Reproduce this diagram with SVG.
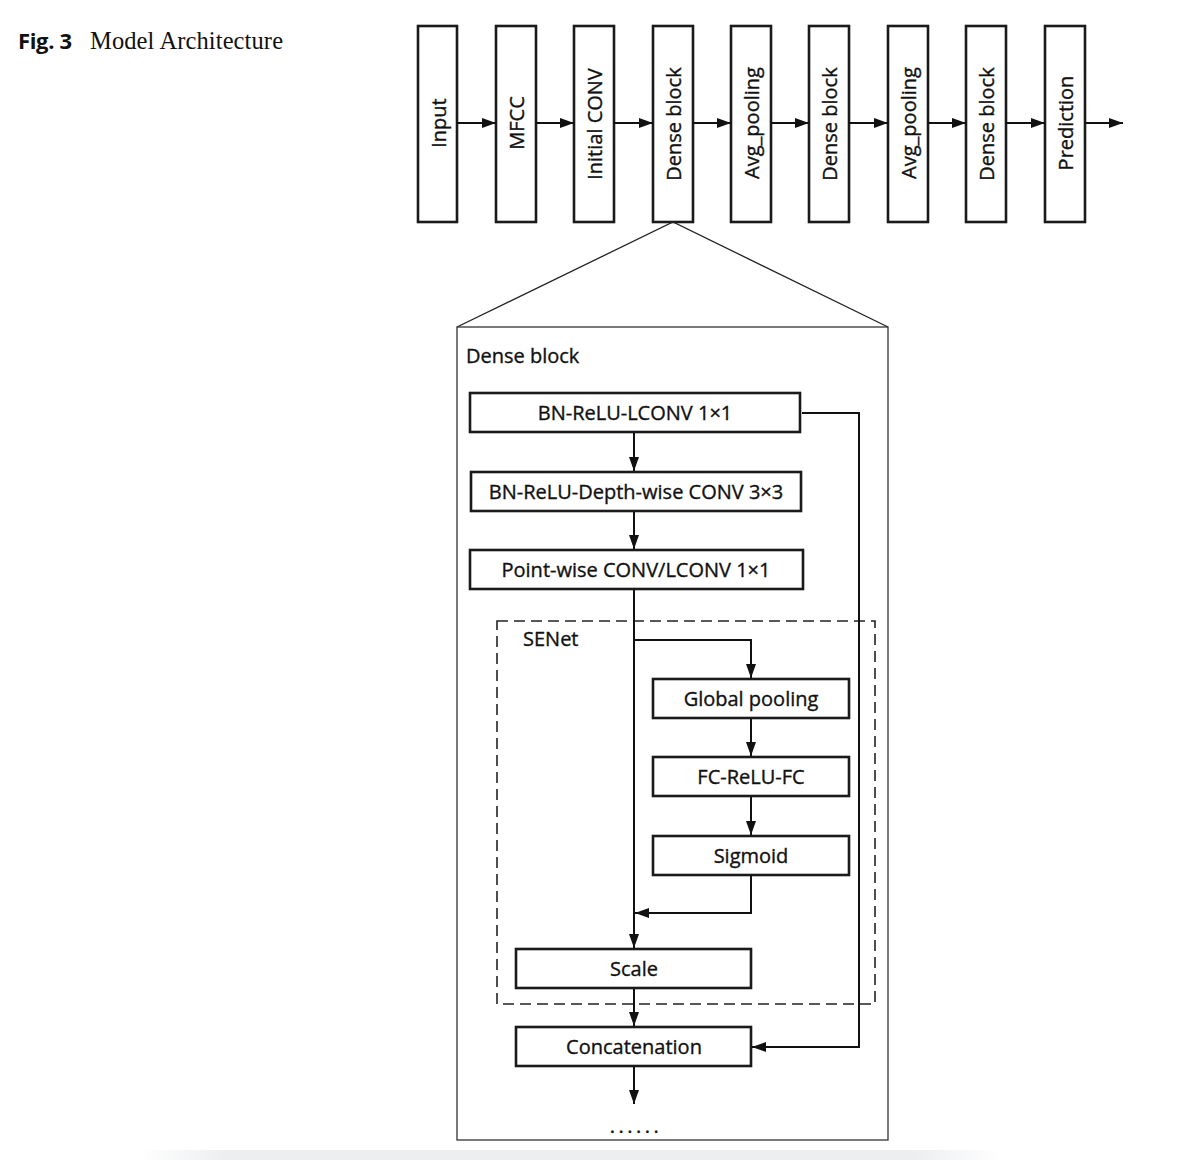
<svg xmlns="http://www.w3.org/2000/svg" width="1194" height="1160" viewBox="0 0 1194 1160">
<defs>
<marker id="ah" markerUnits="userSpaceOnUse" markerWidth="14" markerHeight="10" refX="14" refY="5" orient="auto">
<path d="M0,0 L14,5 L0,10 z" fill="#111"/>
</marker>
<linearGradient id="band" x1="0" y1="0" x2="1" y2="0">
<stop offset="0" stop-color="#eceef0" stop-opacity="0"/>
<stop offset="0.1" stop-color="#eceef0" stop-opacity="1"/>
<stop offset="0.9" stop-color="#eceef0" stop-opacity="1"/>
<stop offset="1" stop-color="#eceef0" stop-opacity="0"/>
</linearGradient>
</defs>
<style>
.box{fill:#fff;stroke:#1a1a1a;stroke-width:2.6}
.t{font-family:"Open Sans","DejaVu Sans",sans-serif;font-size:20px;fill:#111;stroke:#111;stroke-width:0.35}
.c{text-anchor:middle}
.ln{fill:none;stroke:#111;stroke-width:2}
.ar{fill:none;stroke:#111;stroke-width:2;marker-end:url(#ah)}
</style>
<rect width="1194" height="1160" fill="#fff"/>
<rect x="140" y="1150" width="860" height="10" fill="url(#band)"/>

<g id="title">
<text x="18" y="49" font-family="'Open Sans','DejaVu Sans',sans-serif" font-weight="bold" font-size="22" fill="#111" textLength="54">Fig. 3</text>
<text x="90" y="49" font-family="'Liberation Serif','Times New Roman',serif" font-size="24.5" fill="#111" textLength="193">Model Architecture</text>
</g>

<g id="top-row">
<g id="n-input"><rect class="box" x="418" y="26" width="39" height="196"/><text class="t c" transform="translate(445.5,123) rotate(-90)">Input</text></g>
<g id="n-mfcc"><rect class="box" x="496" y="26" width="40" height="196"/><text class="t c" transform="translate(524,123) rotate(-90)">MFCC</text></g>
<g id="n-init"><rect class="box" x="574" y="26" width="40" height="196"/><text class="t c" transform="translate(602,124) rotate(-90)">Initial CONV</text></g>
<g id="n-dense1"><rect class="box" x="653" y="26" width="40" height="196"/><text class="t c" transform="translate(681,124) rotate(-90)">Dense block</text></g>
<g id="n-avg1"><rect class="box" x="731" y="26" width="40" height="196"/><text class="t c" transform="translate(759,123) rotate(-90)">Avg_pooling</text></g>
<g id="n-dense2"><rect class="box" x="809" y="26" width="40" height="196"/><text class="t c" transform="translate(837,124) rotate(-90)">Dense block</text></g>
<g id="n-avg2"><rect class="box" x="888" y="26" width="40" height="196"/><text class="t c" transform="translate(916,123) rotate(-90)">Avg_pooling</text></g>
<g id="n-dense3"><rect class="box" x="966" y="26" width="40" height="196"/><text class="t c" transform="translate(994,124) rotate(-90)">Dense block</text></g>
<g id="n-pred"><rect class="box" x="1045" y="26" width="40" height="196"/><text class="t c" transform="translate(1073,123) rotate(-90)">Prediction</text></g>
</g>

<g id="dense-detail">
<polyline points="457,327 673,222 888,327" fill="none" stroke="#222" stroke-width="1.3"/>
<rect x="457" y="327" width="431" height="813" fill="none" stroke="#333" stroke-width="1.3"/>
<text class="t" x="466" y="363">Dense block</text>
</g>

<g id="senet">
<rect x="497" y="621" width="378" height="383" fill="none" stroke="#222" stroke-width="1.6" stroke-dasharray="11,6"/>
<text class="t" x="523" y="646">SENet</text>
</g>

<g id="n-bn1"><rect class="box" x="470" y="393" width="330" height="39"/><text class="t c" x="635" y="420">BN-ReLU-LCONV 1×1</text></g>
<g id="n-bn2"><rect class="box" x="471" y="472" width="330" height="39"/><text class="t c" x="636" y="499">BN-ReLU-Depth-wise CONV 3×3</text></g>
<g id="n-pw"><rect class="box" x="470" y="550" width="333" height="39"/><text class="t c" x="636" y="577">Point-wise CONV/LCONV 1×1</text></g>
<g id="n-gp"><rect class="box" x="653" y="679" width="196" height="39"/><text class="t c" x="751" y="706">Global pooling</text></g>
<g id="n-fc"><rect class="box" x="653" y="757" width="196" height="39"/><text class="t c" x="751" y="784">FC-ReLU-FC</text></g>
<g id="n-sig"><rect class="box" x="653" y="836" width="196" height="39"/><text class="t c" x="751" y="863">Sigmoid</text></g>
<g id="n-scale"><rect class="box" x="516" y="949" width="235" height="39"/><text class="t c" x="634" y="976">Scale</text></g>
<g id="n-concat"><rect class="box" x="516" y="1027" width="235" height="39"/><text class="t c" x="634" y="1054">Concatenation</text></g>
<g id="n-dots"><text class="t c" x="636" y="1133" font-size="17" letter-spacing="3.5">......</text></g>

<g id="connectors">
<line class="ar" x1="457" y1="123" x2="496" y2="123"/>
<line class="ar" x1="536" y1="123" x2="574" y2="123"/>
<line class="ar" x1="614" y1="123" x2="653" y2="123"/>
<line class="ar" x1="693" y1="123" x2="731" y2="123"/>
<line class="ar" x1="771" y1="123" x2="809" y2="123"/>
<line class="ar" x1="849" y1="123" x2="888" y2="123"/>
<line class="ar" x1="928" y1="123" x2="966" y2="123"/>
<line class="ar" x1="1006" y1="123" x2="1045" y2="123"/>
<line class="ar" x1="1085" y1="123" x2="1123" y2="123"/>

<line class="ar" x1="634" y1="433" x2="634" y2="471"/>
<line class="ar" x1="634" y1="512" x2="634" y2="549"/>
<line class="ar" x1="634" y1="590" x2="634" y2="948"/>
<polyline class="ar" points="634,640 751,640 751,678"/>
<line class="ar" x1="751" y1="719" x2="751" y2="756"/>
<line class="ar" x1="751" y1="797" x2="751" y2="835"/>
<polyline class="ar" points="751,876 751,913 635,913"/>
<line class="ar" x1="634" y1="989" x2="634" y2="1026"/>
<polyline class="ar" points="802,413 859,413 859,1047 752,1047"/>
<line class="ar" x1="634" y1="1067" x2="634" y2="1104"/>
</g>
</svg>
